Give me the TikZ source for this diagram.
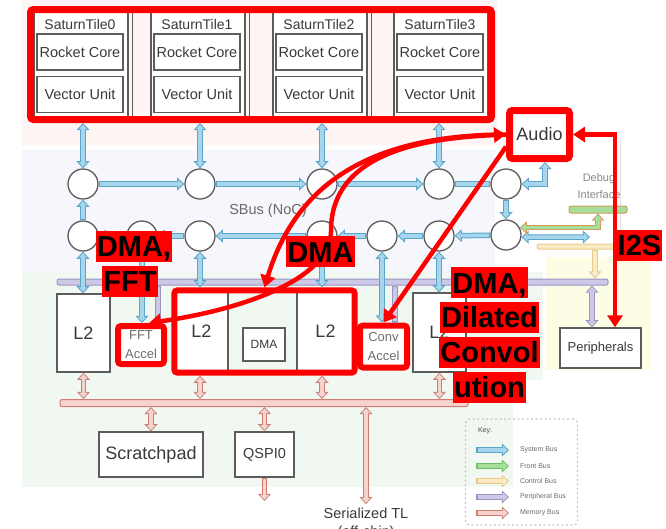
\documentclass[tikz,border=0pt]{standalone}
\usepackage{fontspec}
\setmainfont{Liberation Sans}
\usetikzlibrary{arrows.meta, positioning, fit, calc}

\definecolor{boxgray}{HTML}{5C5C5C}
\definecolor{txtgray}{HTML}{3A3A3A}
\definecolor{accgray}{HTML}{6E6E6E}
\definecolor{notegray}{HTML}{6A6A6A}
\definecolor{sysedge}{HTML}{5AA5CA}
\definecolor{sysfill}{HTML}{A7D6EC}
\definecolor{frontedge}{HTML}{72BF69}
\definecolor{frontfill}{HTML}{A6DE9A}
\definecolor{dbgedge}{HTML}{D39A5E}
\definecolor{ctrledge}{HTML}{E9CA8C}
\definecolor{ctrlfill}{HTML}{FBEBC2}
\definecolor{periedge}{HTML}{9A94C4}
\definecolor{perifill}{HTML}{CDC8E6}
\definecolor{memedge}{HTML}{CF7C73}
\definecolor{memfill}{HTML}{F8D2CD}
\definecolor{pinkbg}{HTML}{FDF4F3}
\definecolor{bluebg}{HTML}{F5F7FC}
\definecolor{greenbg}{HTML}{F1F7F1}
\definecolor{yellowbg}{HTML}{FDFDE6}

\begin{document}
\begin{tikzpicture}[
    x=1pt, y=-1pt,
    graybox/.style={
        rectangle,
        draw=boxgray,
        line width=1.3pt,
        fill=white,
        inner sep=0pt,
        align=center,
        text=txtgray
    },
    unitbox/.style={
        graybox,
        minimum width=86pt,
        minimum height=36pt,
        font=\fontsize{14.5}{16}\selectfont
    },
    tileframe/.style={
        rectangle,
        draw=boxgray,
        line width=1.3pt,
        fill=white,
        minimum width=94pt,
        minimum height=114pt
    },
    tiletitle/.style={
        text=txtgray,
        font=\fontsize{14}{16}\selectfont
    },
    router/.style={
        circle,
        draw=boxgray,
        line width=1.3pt,
        fill=white,
        minimum size=30pt,
        inner sep=0pt
    },
    bigbox/.style={
        graybox,
        font=\fontsize{18}{20}\selectfont
    },
    redframe/.style={
        rectangle,
        rounded corners=3pt,
        draw=red,
        line width=6pt
    },
    accbox/.style={
        redframe,
        fill=white,
        inner sep=0pt,
        align=center,
        text=accgray,
        font=\fontsize{13}{19}\selectfont
    },
    busbar/.style={
        rectangle,
        rounded corners=2pt,
        line width=1pt,
        inner sep=0pt
    },
    sysbus/.style={
        line width=5.5pt,
        draw=sysedge,
        >={Triangle[length=0pt 1.3, width=0pt 2.3]},
        postaction={draw=sysfill, line width=3.5pt,
            shorten >=1.5pt, shorten <=1.5pt}
    },
    frontbus/.style={sysbus, draw=frontedge,
        postaction={draw=frontfill, line width=3.5pt,
            shorten >=1.5pt, shorten <=1.5pt}},
    ctrlbus/.style={sysbus, draw=ctrledge,
        postaction={draw=ctrlfill, line width=3.5pt,
            shorten >=1.5pt, shorten <=1.5pt}},
    peribus/.style={sysbus, draw=periedge,
        postaction={draw=perifill, line width=3.5pt,
            shorten >=1.5pt, shorten <=1.5pt}},
    membus/.style={sysbus, draw=memedge,
        postaction={draw=memfill, line width=3.5pt,
            shorten >=1.5pt, shorten <=1.5pt}},
    redline/.style={
        draw=red,
        line width=4.5pt,
        >={Triangle[length=12pt, width=15pt]}
    },
    hl/.style={
        fill=red,
        text=black,
        inner xsep=1pt,
        inner ysep=0pt,
        text height=26pt,
        text depth=5pt,
        font=\fontsize{29}{30}\selectfont\bfseries
    },
    note/.style={
        text=notegray,
        align=center
    },
    keytext/.style={
        anchor=west,
        inner sep=0pt,
        outer xsep=11pt,
        text=notegray,
        font=\fontsize{7}{8}\selectfont
    }
]

\useasboundingbox (0,0) rectangle (666,528);
\clip (0,0) rectangle (666,528);

% ------------------------------------------------
% Background regions
% ------------------------------------------------

\fill[pinkbg] (22,0) rectangle (497,145);
\fill[bluebg] (22,150) rectangle (495,272);
\fill[greenbg] (22,272) rectangle (513,487);
\fill[greenbg] (495,272) rectangle (543,380);
\fill[yellowbg] (545,257) rectangle (652,370);
\draw[gray!25, line width=1pt] (620,138) -- (620,257);

% ------------------------------------------------
% Saturn tiles
% ------------------------------------------------

\node[tileframe] (tile0) at (81,65) {};
\draw[boxgray, line width=1.3pt] ([xshift=4pt]tile0.north east) -- ([xshift=4pt]tile0.south east);
\node[tiletitle] (title0) at (80,24) {SaturnTile0};
\node[unitbox] (rc0) at (80,52) {Rocket Core};
\node[unitbox, below=5.5pt of rc0] (vu0) {Vector Unit};

\node[tileframe] (tile1) at (198,65) {};
\draw[boxgray, line width=1.3pt] ([xshift=4pt]tile1.north east) -- ([xshift=4pt]tile1.south east);
\node[tiletitle] (title1) at (197,24) {SaturnTile1};
\node[unitbox] (rc1) at (197,52) {Rocket Core};
\node[unitbox, below=5.5pt of rc1] (vu1) {Vector Unit};

\node[tileframe] (tile2) at (320,65) {};
\draw[boxgray, line width=1.3pt] ([xshift=4pt]tile2.north east) -- ([xshift=4pt]tile2.south east);
\node[tiletitle] (title2) at (319,24) {SaturnTile2};
\node[unitbox] (rc2) at (319,52) {Rocket Core};
\node[unitbox, below=5.5pt of rc2] (vu2) {Vector Unit};

\node[tileframe] (tile3) at (441,65) {};
\node[tiletitle] (title3) at (440,24) {SaturnTile3};
\node[unitbox] (rc3) at (440,52) {Rocket Core};
\node[unitbox, below=5.5pt of rc3] (vu3) {Vector Unit};

\node[redframe, line width=7pt, minimum width=461pt, minimum height=110pt] (tiles) at (261,64.5) {};

% ------------------------------------------------
% SBus routers
% ------------------------------------------------

\node[router] (c11) at (83,184) {};
\node[router] (c12) at (200,184) {};
\node[router] (c13) at (322,184) {};
\node[router] (c14) at (439,184) {};
\node[router] (c15) at (506,184) {};

\node[router] (c21) at (83,236) {};
\node[router] (c22) at (142,236) {};
\node[router] (c23) at (200,236) {};
\node[router] (c24) at (322,236) {};
\node[router] (c25) at (382,236) {};
\node[router] (c26) at (439,236) {};
\node[router] (c27) at (506,235) {};

\node[note, font=\fontsize{14.5}{16}\selectfont] (sbus) at (268,211) {SBus (NoC)};

% ------------------------------------------------
% L2 banks and accelerators
% ------------------------------------------------

\node[bigbox, minimum width=53pt, minimum height=78pt] (l2a) at (83.5,333) {L2};
\node[accbox] (fft) at (141,345) [minimum width=46pt, minimum height=38pt] {FFT\\Accel};

\node[bigbox, minimum width=53pt, minimum height=81pt] (l2b) at (201.5,331.5) {L2};
\node[bigbox, minimum width=57pt, minimum height=81pt] (l2c) at (325.5,331.5) {L2};
\node[graybox, minimum width=42pt, minimum height=33pt,
      font=\fontsize{12}{14}\selectfont] (dma) at (264,344.5) {DMA};
\node[redframe, fit=(l2b)(l2c), inner sep=0pt] (dmabox) {};

\node[accbox] (conv) at (383.5,346.5) [minimum width=47pt, minimum height=42pt] {Conv\\Accel};
\node[bigbox, minimum width=53pt, minimum height=79pt] (l2d) at (439.5,332.5) {L2};

% ------------------------------------------------
% Memory side and peripherals
% ------------------------------------------------

\node[bigbox, minimum width=104pt, minimum height=45pt] (scratch) at (151,454.5) {Scratchpad};
\node[graybox, minimum width=59pt, minimum height=45pt,
      font=\fontsize{14.5}{16}\selectfont] (qspi) at (264.5,454.5) {QSPI0};
\coordinate (qspiout) at (264.5,501);
\node[note, text=txtgray, font=\fontsize{14.5}{16}\selectfont] (sertl) at (366,513) {Serialized TL};
\node[note, text=txtgray, font=\fontsize{14.5}{16}\selectfont, below=1pt of sertl] (offchip) {(off-chip)};

\node[graybox, minimum width=81pt, minimum height=40pt,
      font=\fontsize{13}{15}\selectfont] (periph) at (600.5,348) {Peripherals};

\node[accbox, line width=7pt, minimum width=60pt, minimum height=48pt,
      text=txtgray, font=\fontsize{18}{20}\selectfont] (audio) at (539.5,134.5) {Audio};

% ------------------------------------------------
% Bus bars and debug interface
% ------------------------------------------------

\node[busbar, draw=periedge, fill=perifill, minimum width=551pt, minimum height=6pt] (pbus) at (332.5,282) {};
\node[busbar, draw=memedge, fill=memfill, minimum width=408pt, minimum height=7pt] (mbus) at (264,403) {};
\node[busbar, draw=ctrledge, fill=ctrlfill, minimum width=85pt, minimum height=5pt] (ctrlbar) at (579.5,246.5) {};
\node[busbar, draw=dbgedge, fill=frontfill, minimum width=58pt, minimum height=7pt] (dbg) at (598,209.5) {};
\node[note, font=\fontsize{11}{17}\selectfont, text=notegray!80] (dbgtxt) at (599,186) {Debug\\Interface};
\coordinate (ctrlin) at (590,237);

% ------------------------------------------------
% Arrows: system bus
% ------------------------------------------------

\draw[sysbus, <->] (c11 |- tiles.south) -- (c11);
\draw[sysbus, <->] (c12 |- tiles.south) -- (c12);
\draw[sysbus, <->] (c13 |- tiles.south) -- (c13);
\draw[sysbus, <->] (c14 |- tiles.south) -- (c14);

\draw[sysbus, ->] (c11) -- (c12);
\draw[sysbus, ->] (c12) -- (c13);
\draw[sysbus, ->] (c13) -- (c14);
\draw[sysbus] (c14) -- (c15);
\draw[sysbus, ->] (c15) -- (c27);
\draw[sysbus, <->] (c15) -| ([xshift=5.5pt]audio.south);

\draw[sysbus, ->] (c27) -- (c26);
\draw[sysbus, ->] (c26) -- (c25);
\draw[sysbus, ->] (c25) -- (c24);
\draw[sysbus, ->] (c24) -- (c23);
\draw[sysbus, ->] (c23) -- (c22);
\draw[sysbus, ->] (c22) -- (c21);
\draw[sysbus, ->] (c21) -- (c11);

\draw[sysbus, <->] (c21) -- (c21 |- l2a.north);
\draw[sysbus, ->] (c22) -- (c22 |- fft.north);
\draw[sysbus, <->] (c23) -- (c23 |- dmabox.north);
\draw[sysbus, <->] (c24) -- (c24 |- dmabox.north);
\draw[sysbus, <->] (c25) -- (c25 |- conv.north);
\draw[sysbus, <->] (c26) -- (c26 |- l2d.north);
\draw[sysbus, <->] (c27.-8) -- (ctrlin);

% ------------------------------------------------
% Arrows: front, control and peripheral bus
% ------------------------------------------------

\draw[frontbus, draw=dbgedge, <->] (c27.28) -| (dbg.south);
\draw[ctrlbus, ->] ([xshift=15.5pt]ctrlbar.south) -- ([xshift=15.5pt]ctrlbar.south |- pbus.north);
\draw[peribus, <->] ([xshift=-8.5pt]periph.north) -- ([xshift=-8.5pt]periph.north |- pbus.south);
\draw[peribus] ([xshift=17pt]fft.north |- pbus.south) -- ([xshift=17pt]fft.north);
\draw[peribus] ([xshift=11.5pt]conv.north |- pbus.south) -- ([xshift=11.5pt]conv.north);

% ------------------------------------------------
% Arrows: memory bus
% ------------------------------------------------

\draw[membus, <->] (l2a) -- (l2a |- mbus.north);
\draw[membus, <->] ([xshift=-1.5pt]l2b |- dmabox.south) -- ([xshift=-1.5pt]l2b |- mbus.north);
\draw[membus, <->] ([xshift=-3.5pt]l2c |- dmabox.south) -- ([xshift=-3.5pt]l2c |- mbus.north);
\draw[membus, <->] (l2d) -- (l2d |- mbus.north);
\draw[membus, <->] (mbus.south -| scratch) -- (scratch);
\draw[membus, <->] (mbus.south -| qspi) -- (qspi);
\draw[membus, <->] (mbus.south -| sertl) -- (sertl);
\draw[membus, ->] (qspi) -- (qspiout);

% ------------------------------------------------
% Key
% ------------------------------------------------

\node[draw=gray!45, line width=1.2pt, dash pattern=on 2pt off 2.5pt, rounded corners=4pt,
      minimum width=112pt, minimum height=106pt] (key) at (521.5,472) {};
\node[keytext, outer xsep=0pt, text=black!70] (keytitle) at (478,431) {Key:};

\coordinate (ksysa) at (476,450);
\coordinate (kfronta) at (476,466);
\coordinate (kctrla) at (476,481);
\coordinate (kperia) at (476,497);
\coordinate (kmema) at (476,513);
\node[keytext] (ksys) at (509,450) {System Bus};
\node[keytext] (kfront) at (509,466) {Front Bus};
\node[keytext] (kctrl) at (509,481) {Control Bus};
\node[keytext] (kperi) at (509,497) {Peripheral Bus};
\node[keytext] (kmem) at (509,513) {Memory Bus};
\draw[sysbus, ->] (ksysa) -- (ksys);
\draw[frontbus, ->] (kfronta) -- (kfront);
\draw[ctrlbus, ->] (kctrla) -- (kctrl);
\draw[peribus, ->] (kperia) -- (kperi);
\draw[membus, ->] (kmema) -- (kmem);

% ------------------------------------------------
% Audio data paths
% ------------------------------------------------

\draw[redline, <->] (audio) -| ([xshift=14.5pt]periph.north);
\draw[redline, ->] (audio.200) -- (conv.north);
\draw[redline, ->] (audio.west) .. controls (390,135) and (300,170) .. (dmabox.north);
\draw[redline, <->] (audio.west) .. controls (430,138) and (330,150) .. (331,232)
    .. controls (330,280) and (240,310) .. (fft.70);

% ------------------------------------------------
% Labels
% ------------------------------------------------

\node[hl] (lfft1) at (134,246) {DMA,};
\node[hl, below=4pt of lfft1, xshift=-4pt] (lfft2) {FFT};

\node[hl] (ldma) at (320.5,251.5) {DMA};

\node[hl] (lconv1) at (489.5,282.5) {DMA,};
\node[hl, below=3.5pt of lconv1] (lconv2) {Dilated};
\node[hl, below=3.5pt of lconv2] (lconv3) {Convol};
\node[hl, below=3.5pt of lconv3] (lconv4) {ution};

\node[hl] (li2s) at (639.5,245) {I2S};

\end{tikzpicture}
\end{document}
